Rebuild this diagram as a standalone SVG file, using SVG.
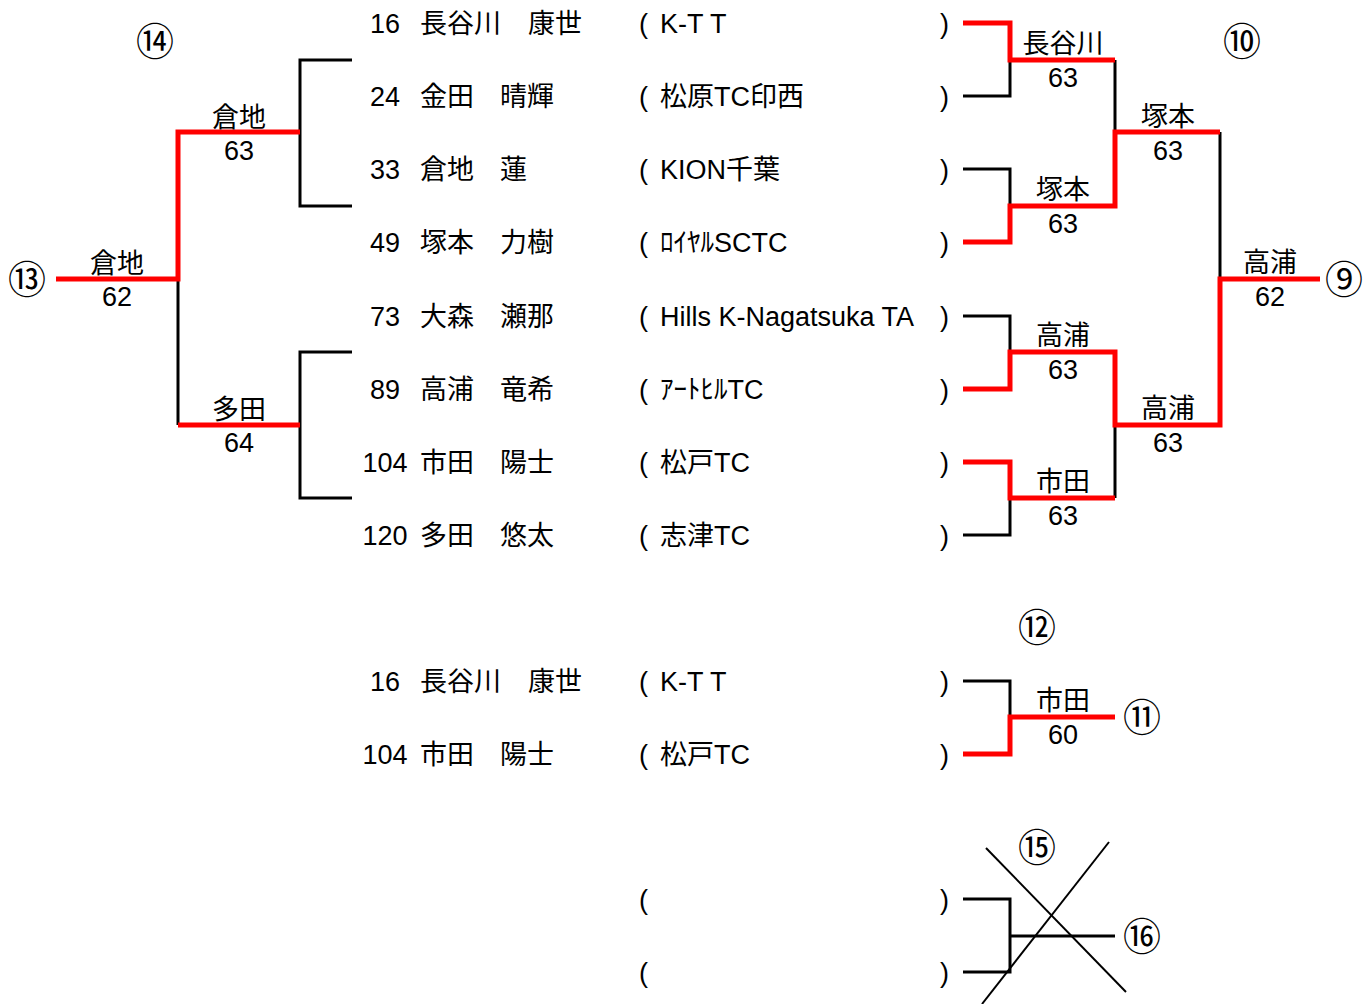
<svg xmlns="http://www.w3.org/2000/svg" width="1364" height="1004" viewBox="0 0 1364 1004">
<style>
text{font-family:"Liberation Sans","Noto Sans CJK JP",sans-serif;font-size:27px;fill:#000}
.c{text-anchor:middle}
.circ{font-family:"Noto Sans CJK JP",sans-serif;font-size:38px;text-anchor:middle}
.b{fill:none;stroke:#000;stroke-width:3}
.r{fill:none;stroke:#ff0000;stroke-width:5}
.x{fill:none;stroke:#000;stroke-width:2}
</style>
<rect width="1364" height="1004" fill="#fff"/>
<g id="connectors">
<polyline class="b" points="352,60 300,60 300,206 352,206"/>
<polyline class="b" points="352,352 300,352 300,498 352,498"/>
<polyline class="b" points="178,279 178,425"/>
<polyline class="b" points="963,96 1010,96 1010,60"/>
<polyline class="b" points="1115,60 1115,132"/>
<polyline class="b" points="963,169 1010,169 1010,206"/>
<polyline class="b" points="1220,132 1220,279"/>
<polyline class="b" points="963,316 1010,316 1010,352"/>
<polyline class="b" points="1115,425 1115,498"/>
<polyline class="b" points="1010,498 1010,535 963,535"/>
<polyline class="b" points="963,681 1010,681 1010,717"/>
<polyline class="b" points="963,899 1010,899 1010,972 963,972"/>
<polyline class="b" points="1010,936 1115,936"/>
<line class="x" x1="986" y1="848" x2="1126" y2="992"/>
<line class="x" x1="1109" y1="842" x2="982" y2="1004"/>
<polyline class="r" points="56,279 178,279 178,132 300,132"/>
<polyline class="r" points="178,425 300,425"/>
<polyline class="r" points="963,23 1010,23 1010,60 1115,60"/>
<polyline class="r" points="963,242 1010,242 1010,206 1115,206 1115,132 1220,132"/>
<polyline class="r" points="1320,279 1220,279 1220,425 1115,425 1115,352 1010,352 1010,389 963,389"/>
<polyline class="r" points="963,462 1010,462 1010,498 1115,498"/>
<polyline class="r" points="963,754 1010,754 1010,717 1115,717"/>
</g>
<g id="p16"><text class="c" x="385" y="33">16</text><text x="420" y="33">長谷川</text><text x="528" y="33">康世</text><text x="639" y="33">(</text><text x="660" y="33">K-T T</text><text x="940" y="33">)</text></g>
<g id="p24"><text class="c" x="385" y="106">24</text><text x="420" y="106">金田</text><text x="500" y="106">晴輝</text><text x="639" y="106">(</text><text x="660" y="106">松原TC印西</text><text x="940" y="106">)</text></g>
<g id="p33"><text class="c" x="385" y="179">33</text><text x="420" y="179">倉地</text><text x="500" y="179">蓮</text><text x="639" y="179">(</text><text x="660" y="179">KION千葉</text><text x="940" y="179">)</text></g>
<g id="p49"><text class="c" x="385" y="252">49</text><text x="420" y="252">塚本</text><text x="500" y="252">力樹</text><text x="639" y="252">(</text><text x="660" y="252">ﾛｲﾔﾙSCTC</text><text x="940" y="252">)</text></g>
<g id="p73"><text class="c" x="385" y="326">73</text><text x="420" y="326">大森</text><text x="500" y="326">瀬那</text><text x="639" y="326">(</text><text x="660" y="326">Hills K-Nagatsuka TA</text><text x="940" y="326">)</text></g>
<g id="p89"><text class="c" x="385" y="399">89</text><text x="420" y="399">高浦</text><text x="500" y="399">竜希</text><text x="639" y="399">(</text><text x="660" y="399">ｱｰﾄﾋﾙTC</text><text x="940" y="399">)</text></g>
<g id="p104"><text class="c" x="385" y="472">104</text><text x="420" y="472">市田</text><text x="500" y="472">陽士</text><text x="639" y="472">(</text><text x="660" y="472">松戸TC</text><text x="940" y="472">)</text></g>
<g id="p120"><text class="c" x="385" y="545">120</text><text x="420" y="545">多田</text><text x="500" y="545">悠太</text><text x="639" y="545">(</text><text x="660" y="545">志津TC</text><text x="940" y="545">)</text></g>
<g id="b16"><text class="c" x="385" y="691">16</text><text x="420" y="691">長谷川</text><text x="528" y="691">康世</text><text x="639" y="691">(</text><text x="660" y="691">K-T T</text><text x="940" y="691">)</text></g>
<g id="b104"><text class="c" x="385" y="764">104</text><text x="420" y="764">市田</text><text x="500" y="764">陽士</text><text x="639" y="764">(</text><text x="660" y="764">松戸TC</text><text x="940" y="764">)</text></g>
<g id="e1"><text x="639" y="909">(</text><text x="940" y="909">)</text></g>
<g id="e2"><text x="639" y="982">(</text><text x="940" y="982">)</text></g>
<g id="m-l2a"><text class="c" x="239" y="127">倉地</text><text class="c" x="239" y="160">63</text></g>
<g id="m-l2b"><text class="c" x="239" y="419">多田</text><text class="c" x="239" y="452">64</text></g>
<g id="m-lf"><text class="c" x="117" y="273">倉地</text><text class="c" x="117" y="306">62</text></g>
<g id="m-r1a"><text class="c" x="1063" y="53">長谷川</text><text class="c" x="1063" y="87">63</text></g>
<g id="m-r1b"><text class="c" x="1063" y="199">塚本</text><text class="c" x="1063" y="233">63</text></g>
<g id="m-r1c"><text class="c" x="1063" y="345">高浦</text><text class="c" x="1063" y="379">63</text></g>
<g id="m-r1d"><text class="c" x="1063" y="491">市田</text><text class="c" x="1063" y="525">63</text></g>
<g id="m-r2a"><text class="c" x="1168" y="126">塚本</text><text class="c" x="1168" y="160">63</text></g>
<g id="m-r2b"><text class="c" x="1168" y="418">高浦</text><text class="c" x="1168" y="452">63</text></g>
<g id="m-rf"><text class="c" x="1270" y="272">高浦</text><text class="c" x="1270" y="306">62</text></g>
<g id="m-11"><text class="c" x="1063" y="710">市田</text><text class="c" x="1063" y="744">60</text></g>
<g id="labels">
<text class="circ" x="155" y="55">⑭</text>
<text class="circ" x="27" y="293">⑬</text>
<text class="circ" x="1242" y="55">⑩</text>
<text class="circ" x="1344" y="293">⑨</text>
<text class="circ" x="1037" y="641">⑫</text>
<text class="circ" x="1142" y="731">⑪</text>
<text class="circ" x="1037" y="861">⑮</text>
<text class="circ" x="1142" y="950">⑯</text>
</g>
</svg>
